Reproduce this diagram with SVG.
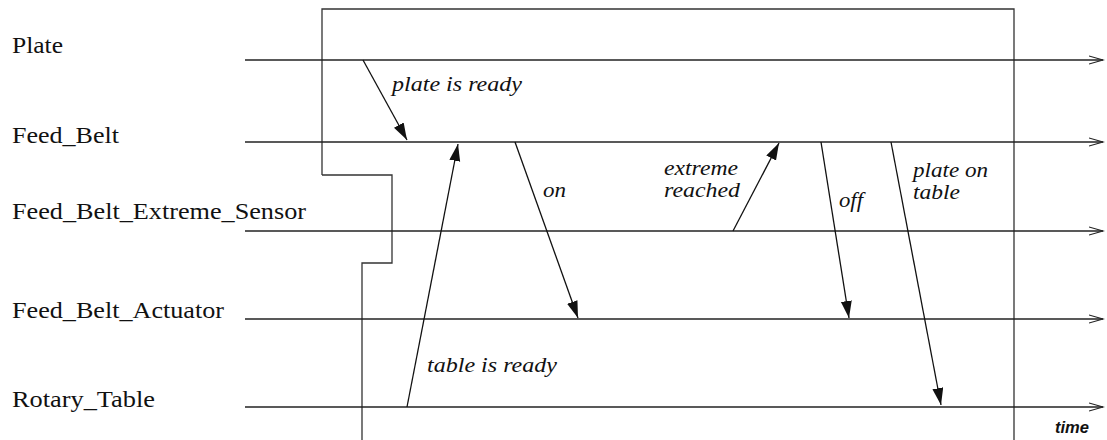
<svg xmlns="http://www.w3.org/2000/svg" width="1107" height="440" viewBox="0 0 1107 440">
  <defs>
    <marker id="fill" markerUnits="userSpaceOnUse" markerWidth="18" markerHeight="12" refX="17" refY="5.5" orient="auto">
      <path d="M0,0 L17,5.5 L0,11 z" fill="#111"/>
    </marker>
    <marker id="open" markerUnits="userSpaceOnUse" markerWidth="16" markerHeight="12" refX="14" refY="5" orient="auto">
      <polyline points="0,1 14,5 0,9" fill="none" stroke="#222" stroke-width="1.2"/>
    </marker>
  </defs>
  <style>
    .lbl { font-size: 24px; fill: #111; }
    .msg { font-style: italic; font-size: 22px; fill: #111; }
    .msg2 { font-style: italic; font-size: 21px; fill: #111; }
    .msg3 { font-style: italic; font-size: 20px; fill: #111; }
    .life { stroke: #222; stroke-width: 1.3; fill: none; marker-end: url(#open); }
    .box { stroke: #333; stroke-width: 1.3; fill: none; }
    .arr { stroke: #111; stroke-width: 1.3; fill: none; marker-end: url(#fill); }
    .time { font-weight: bold; font-style: italic; font-size: 17px; fill: #111; }
  </style>
  <rect width="1107" height="440" fill="#fff"/>
  <g id="frame">
    <polyline class="box" points="322,175 322,9 1014,9 1014,440"/>
    <polyline class="box" points="322,175 392,175 392,263 362,263 362,440"/>
  </g>
  <g id="plate">
    <text class="lbl" font-family="Liberation Serif, serif" x="12" y="53" textLength="51" lengthAdjust="spacingAndGlyphs">Plate</text>
    <line class="life" x1="245" y1="60" x2="1103" y2="60"/>
  </g>
  <g id="feed_belt">
    <text class="lbl" font-family="Liberation Serif, serif" x="12" y="143" textLength="107" lengthAdjust="spacingAndGlyphs">Feed_Belt</text>
    <line class="life" x1="245" y1="142" x2="1103" y2="142"/>
  </g>
  <g id="feed_belt_extreme_sensor">
    <text class="lbl" font-family="Liberation Serif, serif" x="12" y="219" textLength="294" lengthAdjust="spacingAndGlyphs">Feed_Belt_Extreme_Sensor</text>
    <line class="life" x1="245" y1="231" x2="1103" y2="231"/>
  </g>
  <g id="feed_belt_actuator">
    <text class="lbl" font-family="Liberation Serif, serif" x="12" y="318" textLength="212" lengthAdjust="spacingAndGlyphs">Feed_Belt_Actuator</text>
    <line class="life" x1="245" y1="319" x2="1103" y2="319"/>
  </g>
  <g id="rotary_table">
    <text class="lbl" font-family="Liberation Serif, serif" x="12" y="407" textLength="143" lengthAdjust="spacingAndGlyphs">Rotary_Table</text>
    <line class="life" x1="245" y1="407" x2="1103" y2="407"/>
  </g>
  <g id="time_axis">
    <text class="time" font-family="Liberation Sans, sans-serif" x="1055" y="433" textLength="34" lengthAdjust="spacingAndGlyphs">time</text>
  </g>
  <g id="connectors">
    <line class="arr" x1="363" y1="60" x2="407" y2="140"/>
    <line class="arr" x1="407" y1="407" x2="458" y2="144"/>
    <line class="arr" x1="515" y1="142" x2="578" y2="318"/>
    <line class="arr" x1="733" y1="231" x2="779" y2="143"/>
    <line class="arr" x1="821" y1="142" x2="849" y2="318"/>
    <line class="arr" x1="891" y1="142" x2="941" y2="405"/>
  </g>
  <g id="labels">
    <text class="msg" font-family="Liberation Serif, serif" x="392" y="91" textLength="130" lengthAdjust="spacingAndGlyphs">plate is ready</text>
    <text class="msg" font-family="Liberation Serif, serif" x="543" y="197" textLength="23" lengthAdjust="spacingAndGlyphs">on</text>
    <text class="msg2" font-family="Liberation Serif, serif" x="664" y="175" textLength="74" lengthAdjust="spacingAndGlyphs">extreme</text>
    <text class="msg2" font-family="Liberation Serif, serif" x="664" y="197" textLength="76" lengthAdjust="spacingAndGlyphs">reached</text>
    <text class="msg" font-family="Liberation Serif, serif" x="839" y="207" textLength="24" lengthAdjust="spacingAndGlyphs">off</text>
    <text class="msg3" font-family="Liberation Serif, serif" x="913" y="177" textLength="75" lengthAdjust="spacingAndGlyphs">plate on</text>
    <text class="msg3" font-family="Liberation Serif, serif" x="913" y="199" textLength="47" lengthAdjust="spacingAndGlyphs">table</text>
    <text class="msg" font-family="Liberation Serif, serif" x="427" y="372" textLength="130" lengthAdjust="spacingAndGlyphs">table is ready</text>
  </g>
</svg>
